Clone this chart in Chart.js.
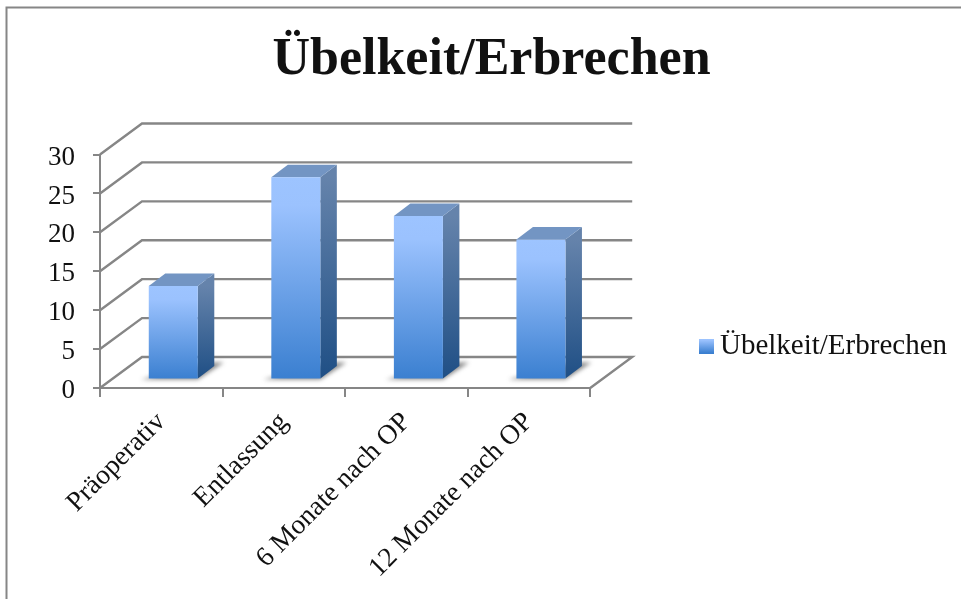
<!DOCTYPE html>
<html><head><meta charset="utf-8">
<style>html,body{margin:0;padding:0;background:#fff;overflow:hidden}#w{position:relative;width:961px;height:599px}</style>
<script src="https://cdn.jsdelivr.net/npm/chart.js@4"></script></head>
<body><div id="w"><canvas id="c" width="961" height="599"></canvas></div>
<script>
const chartTitle = "Übelkeit/Erbrechen";
const categories = ["Präoperativ", "Entlassung", "6 Monate nach OP", "12 Monate nach OP"];
const values = [12, 26, 21, 18];
const yTickStep = 5;
const yMax = 30;

const GRID = "#868686", TEXT = "#111111", FONT = "'Liberation Serif', serif";
const WALL = {dx: 42, dy: -31};
const BAR_OFFSET = {dx: 12, dy: -8.5};
const DEPTH = {dx: 16.5, dy: -12.5};
const LEGEND_FONT = 29;

function vGrad(ctx, top, bot, stops) {
  const g = ctx.createLinearGradient(0, top, 0, bot);
  stops.forEach(s => g.addColorStop(s[0], s[1]));
  return g;
}
const FRONT = [[0, "#9dc4ff"], [0.14, "#9bc2fe"], [1, "#3a7fd0"]];
const SIDE = [[0, "#6583ab"], [1, "#1f4f85"]];

const scene = {
  id: "scene3d",
  afterLayout(chart) {
    const t = chart.titleBlock; t.left = 0; t.right = 983;
    const l = chart.legend;
    l.left = 689; l.right = 947; l.width = 258;
    const h = l.bottom - l.top; l.top = 346.5 - h / 2; l.bottom = l.top + h;
    const y = chart.scales.y;
    if (!y._shifted) {
      const orig = y.drawLabels;
      y.drawLabels = function (area) {
        const c = this.ctx; c.save(); c.translate(0, 3); orig.call(this, area); c.restore();
      };
      y._shifted = true;
    }
  },
  beforeDraw(chart) {
    const c = chart.ctx;
    c.save(); c.strokeStyle = GRID; c.lineWidth = 2;
    c.beginPath(); c.moveTo(6.5, 599); c.lineTo(6.5, 7.5); c.lineTo(961, 7.5); c.stroke();
    c.restore();
  },
  beforeDatasetsDraw(chart) {
    const c = chart.ctx, y = chart.scales.y, a = chart.chartArea;
    c.save(); c.strokeStyle = GRID; c.lineWidth = 2.4; c.lineJoin = "miter";
    y.ticks.forEach(t => {
      const p = y.getPixelForValue(t.value);
      c.beginPath(); c.moveTo(a.left, p);
      c.lineTo(a.left + WALL.dx, p + WALL.dy);
      c.lineTo(a.right + WALL.dx, p + WALL.dy);
      if (t.value === 0) c.lineTo(a.right, p);
      c.stroke();
    });
    c.restore();
    const bars = chart.getDatasetMeta(0).data;
    bars.forEach(b => {
      const L = b.x - b.width / 2 + BAR_OFFSET.dx, R = b.x + b.width / 2 + BAR_OFFSET.dx;
      const T = b.y + BAR_OFFSET.dy, B = b.base + BAR_OFFSET.dy;
      c.save();
      c.filter = "blur(2px)";
      c.fillStyle = "rgba(60,60,60,.6)";
      c.beginPath();
      c.moveTo(L - 8, B + 1); c.lineTo(R, B + 1); c.lineTo(R + 26, B - 16); c.lineTo(R + 8, B - 16);
      c.closePath(); c.fill();
      c.restore();
      c.fillStyle = vGrad(c, T, B, SIDE);
      c.beginPath();
      c.moveTo(R, T); c.lineTo(R + DEPTH.dx, T + DEPTH.dy); c.lineTo(R + DEPTH.dx, B + DEPTH.dy); c.lineTo(R, B);
      c.closePath(); c.fill();
      c.fillStyle = "#7395c3";
      c.beginPath();
      c.moveTo(L, T); c.lineTo(L + DEPTH.dx, T + DEPTH.dy); c.lineTo(R + DEPTH.dx, T + DEPTH.dy); c.lineTo(R, T);
      c.closePath(); c.fill();
    });
  },
  beforeDatasetDraw(chart) { chart.ctx.save(); chart.ctx.translate(BAR_OFFSET.dx, BAR_OFFSET.dy); },
  afterDatasetDraw(chart) { chart.ctx.restore(); }
};

const chart = new Chart(document.getElementById("c"), {
  type: "bar",
  data: {
    labels: categories,
    datasets: [{
      label: chartTitle,
      data: values,
      categoryPercentage: 0.4,
      barPercentage: 1,
      clip: false,
      borderWidth: 0,
      backgroundColor(ctx) {
        const s = ctx.chart.scales.y;
        if (!s || ctx.raw === undefined) return "#8ab4f0";
        return vGrad(ctx.chart.ctx, s.getPixelForValue(ctx.raw), s.getPixelForValue(0), FRONT);
      }
    }]
  },
  plugins: [scene],
  options: {
    responsive: false,
    animation: false,
    events: [],
    layout: {padding: {left: 0, top: 0, bottom: 0, right: 100}},
    plugins: {
      tooltip: {enabled: false},
      title: {
        display: true, text: chartTitle, color: TEXT,
        font: {family: FONT, size: 52, weight: "bold", lineHeight: 1.2},
        padding: {top: 29, bottom: 154.5 - 29 - 52 * 1.2}
      },
      legend: {
        display: true, position: "right",
        labels: {
          font: {family: FONT, size: LEGEND_FONT}, color: TEXT, textAlign: "right",
          boxWidth: 15, boxHeight: 15, padding: 10,
          generateLabels(chart) {
            return [{text: chartTitle, fontColor: TEXT, lineWidth: 0, strokeStyle: "transparent",
              fillStyle: vGrad(chart.ctx, 338, 353, FRONT), datasetIndex: 0}];
          }
        }
      }
    },
    scales: {
      x: {
        type: "category",
        offset: true,
        afterFit(s) { s.height = 211; },
        grid: {offset: true, drawOnChartArea: false, drawTicks: true, tickLength: 9, color: GRID, lineWidth: 2},
        border: {display: true, color: GRID, width: 2},
        ticks: {autoSkip: false, minRotation: 45, maxRotation: 45, color: TEXT, padding: 9,
          font: {family: FONT, size: 27.5}}
      },
      y: {
        min: 0, max: yMax,
        afterFit(s) { s.width = 100; },
        grid: {drawOnChartArea: false, drawTicks: true, tickLength: 7, color: GRID, lineWidth: 2},
        border: {display: true, color: GRID, width: 2},
        ticks: {stepSize: yTickStep, color: TEXT, padding: 18, font: {family: FONT, size: 27}}
      }
    }
  }
});
// the legend box sits outside the plot: fit the right padding so the plot ends where the reference's does
for (let i = 0; i < 6 && Math.abs(chart.chartArea.right - 590) > 0.25; i++) {
  chart.options.layout.padding.right += chart.chartArea.right - 590;
  chart.update();
}
</script></body></html>
